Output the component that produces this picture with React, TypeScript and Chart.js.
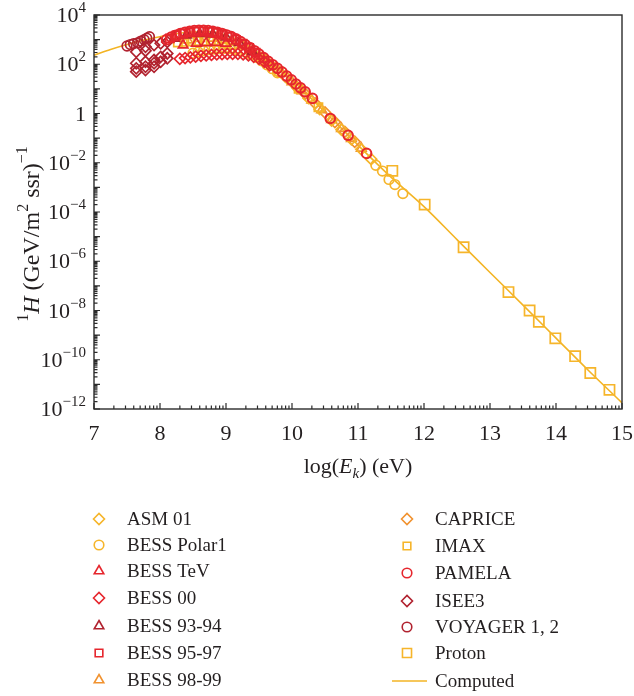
import React, { useEffect, useRef } from 'react';
import { Chart, registerables } from 'chart.js';
import { drawPoint } from 'chart.js/helpers';

Chart.register(...registerables);

// ---------------- data (x = log10(Ek / eV), y = flux in (GeV m^2 s sr)^-1) ----------------
const asm01X = [9.92, 10.08, 10.25, 10.42, 10.6, 10.75, 10.9, 11.05, 11.2];
const asm01Y = [28, 11, 4.2, 1.5, 0.52, 0.22, 0.089, 0.035, 0.014];

const bessPolarX = [8.5, 8.58, 8.66, 8.74, 8.82, 8.9, 8.98, 9.06, 9.14, 9.22, 9.3, 9.38, 9.46, 9.54, 9.62, 9.7, 9.78, 11.27, 11.37, 11.47, 11.56, 11.68];
const bessPolarY = [280, 316, 355, 390, 417, 437, 447, 437, 407, 363, 309, 251, 191, 138, 95, 66, 45, 7.9e-3, 4.6e-3, 2.1e-3, 1.3e-3, 5.6e-4];

const bessTevX = [8.35, 8.55, 8.7, 8.85, 9.0];
const bessTevY = [600, 710, 740, 760, 710];

const bess00X = [8.3, 8.38, 8.46, 8.54, 8.62, 8.7, 8.78, 8.86, 8.94, 9.02, 9.1, 9.18, 9.26, 9.34, 9.42, 9.5, 9.58, 9.66];
const bess00Y = [166, 178, 191, 204, 219, 229, 240, 251, 257, 263, 263, 263, 251, 229, 200, 166, 126, 91];

const bess9394X = [8.22, 8.4, 8.6, 8.8, 9.0, 9.2, 9.4];
const bess9394Y = [1120, 1510, 1740, 1660, 1260, 760, 330];

const bess9597X = [8.15, 8.25, 8.35, 8.45, 8.55, 8.65, 8.75, 8.85, 8.95, 9.05, 9.15, 9.25, 9.35, 9.45];
const bess9597Y = [1120, 1480, 1780, 2000, 2090, 2140, 2040, 1860, 1580, 1290, 980, 690, 457, 295];

const bess9899X = [8.42, 8.6, 8.8, 8.95, 9.1, 9.25, 9.4, 9.55, 9.7, 9.85, 10.0, 10.15, 10.3, 10.45, 10.6, 10.75, 10.9, 11.05];
const bess9899Y = [955, 1100, 1120, 1000, 830, 600, 355, 190, 89, 42, 19, 8.3, 3.5, 1.4, 0.56, 0.24, 0.095, 0.038];

const capriceX = [9.6, 9.75, 9.9, 10.05, 10.2, 10.35, 10.5, 10.65, 10.8, 10.95];
const capriceY = [145, 71, 32, 14, 6.3, 2.6, 1.1, 0.45, 0.18, 0.071];

const imaxX = [8.27, 8.37, 8.47, 8.57, 8.67, 8.77, 8.87, 8.97, 9.07, 9.5, 9.8, 10.1, 10.4];
const imaxY = [760, 810, 850, 870, 870, 850, 810, 740, 630, 200, 52, 10, 1.8];

const pamelaX = [8.1, 8.17, 8.24, 8.31, 8.38, 8.45, 8.52, 8.59, 8.66, 8.73, 8.8, 8.87, 8.94, 9.01, 9.08, 9.15, 9.22, 9.29, 9.36, 9.43, 9.5, 9.57, 9.64, 9.71, 9.78, 9.85, 9.92, 9.99, 10.06, 10.13, 10.2, 10.31, 10.58, 10.85, 11.13];
const pamelaY = [1000, 1260, 1510, 1780, 2000, 2190, 2340, 2400, 2400, 2340, 2190, 2000, 1780, 1550, 1320, 1070, 830, 630, 480, 355, 257, 186, 132, 95, 68, 48, 33, 23.4, 15.8, 11, 7.6, 4.1, 0.63, 0.13, 0.024];

const isee3X = [7.64, 7.64, 7.64, 7.64, 7.78, 7.78, 7.78, 7.78, 7.78, 7.91, 7.91, 7.91, 7.91, 8.01, 8.01, 8.01, 8.11, 8.11, 8.11];
const isee3Y = [320, 110, 68, 50, 510, 355, 126, 79, 58, 600, 148, 110, 79, 710, 200, 126, 810, 275, 174];

const voyagerX = [7.5, 7.55, 7.6, 7.66, 7.71, 7.76, 7.8, 7.84];
const voyagerY = [550, 630, 690, 740, 870, 1000, 1150, 1320];

const protonX = [11.52, 12.01, 12.6, 13.28, 13.6, 13.74, 13.99, 14.29, 14.52, 14.81];
const protonY = [4.7e-3, 2.0e-4, 3.7e-6, 5.6e-8, 1.0e-8, 3.5e-9, 7.4e-10, 1.4e-10, 2.9e-11, 6.0e-12];

const computedX = [7.0, 7.25, 7.5, 7.75, 8.0, 8.25, 8.5, 8.75, 9.0, 9.25, 9.5, 9.75, 10.0, 10.25, 10.5, 10.75, 11.0, 11.5, 12.0, 12.5, 13.0, 13.5, 14.0, 14.5, 15.0];
const computedY = [234, 398, 631, 955, 1318, 1738, 2042, 2089, 1514, 759, 282, 85, 22.4, 5.2, 1.15, 0.25, 0.052, 2.6e-3, 1.66e-4, 7.6e-6, 3.5e-7, 1.66e-8, 7.6e-10, 3.5e-11, 1.78e-12];

const xTickValues = [7, 8, 9, 10, 11, 12, 13, 14, 15];
const yTickExponents = [4, 2, 0, -2, -4, -6, -8, -10, -12];

// ---------------- styles ----------------
const SERIF = '"Liberation Serif", "Times New Roman", serif';
const C_YELLOW = '#F6B52A';
const C_ORANGE = '#F1922F';
const C_RED = '#E6262D';
const C_DARK = '#B1222F';
const C_LINE = '#F3B424';
const C_AXIS = '#2b2b2b';
const C_TEXT = '#231f20';

type Series = {
  label: string; xs: number[]; ys: number[]; style: string; color: string;
  radius: number; order: number; line?: boolean; bw?: number;
};

const SERIES: Series[] = [
  { label: 'ASM 01', xs: asm01X, ys: asm01Y, style: 'rectRot', color: C_YELLOW, radius: 5.5, order: 6 },
  { label: 'BESS Polar1', xs: bessPolarX, ys: bessPolarY, style: 'circle', color: C_YELLOW, radius: 4.8, order: 5 },
  { label: 'BESS TeV', xs: bessTevX, ys: bessTevY, style: 'triangle', color: C_RED, radius: 5.5, order: 4 },
  { label: 'BESS 00', xs: bess00X, ys: bess00Y, style: 'rectRot', color: C_RED, radius: 5.5, order: 4 },
  { label: 'BESS 93-94', xs: bess9394X, ys: bess9394Y, style: 'triangle', color: C_DARK, radius: 5.5, order: 3 },
  { label: 'BESS 95-97', xs: bess9597X, ys: bess9597Y, style: 'rect', color: C_RED, radius: 5.8, order: 2 },
  { label: 'BESS 98-99', xs: bess9899X, ys: bess9899Y, style: 'triangle', color: C_ORANGE, radius: 5.5, order: 7 },
  { label: 'CAPRICE', xs: capriceX, ys: capriceY, style: 'rectRot', color: C_ORANGE, radius: 5.5, order: 7 },
  { label: 'IMAX', xs: imaxX, ys: imaxY, style: 'rect', color: C_YELLOW, radius: 5.8, order: 6 },
  { label: 'PAMELA', xs: pamelaX, ys: pamelaY, style: 'circle', color: C_RED, radius: 4.8, order: 0, bw: 2 },
  { label: 'ISEE3', xs: isee3X, ys: isee3Y, style: 'rectRot', color: C_DARK, radius: 5.5, order: 2 },
  { label: 'VOYAGER 1, 2', xs: voyagerX, ys: voyagerY, style: 'circle', color: C_DARK, radius: 4.8, order: 1 },
  { label: 'Proton', xs: protonX, ys: protonY, style: 'rect', color: C_YELLOW, radius: 7.2, order: 5 },
  { label: 'Computed', xs: computedX, ys: computedY, style: 'line', color: C_LINE, radius: 0, order: 20, line: true },
];

type Seg = { t: string; size: number; italic?: boolean; dy?: number };

function segFont(s: Seg) {
  return `${s.italic ? 'italic ' : ''}${s.size}px ${SERIF}`;
}
function segsWidth(ctx: CanvasRenderingContext2D, segs: Seg[]) {
  let w = 0;
  for (const s of segs) { ctx.font = segFont(s); w += ctx.measureText(s.t).width; }
  return w;
}
function drawSegs(ctx: CanvasRenderingContext2D, segs: Seg[], x: number, y: number) {
  let cx = x;
  for (const s of segs) {
    ctx.font = segFont(s);
    ctx.fillText(s.t, cx, y + (s.dy || 0));
    cx += ctx.measureText(s.t).width;
  }
}

const decorPlugin = {
  id: 'decor',
  afterDraw(chart: any) {
    const ctx: CanvasRenderingContext2D = chart.ctx;
    const { left, right, top, bottom } = chart.chartArea;
    const xs = chart.scales.x;
    const ys = chart.scales.y;
    ctx.save();

    // frame
    ctx.strokeStyle = C_AXIS;
    ctx.lineWidth = 1.4;
    ctx.strokeRect(left, top, right - left, bottom - top);

    // y ticks (inward, left axis)
    ctx.lineWidth = 1.2;
    ctx.beginPath();
    for (let e = -12; e <= 4; e++) {
      const py = ys.getPixelForValue(Math.pow(10, e));
      ctx.moveTo(left, py); ctx.lineTo(left + 6, py);
      if (e < 4) {
        for (let k = 2; k <= 9; k++) {
          const pm = ys.getPixelForValue(k * Math.pow(10, e));
          ctx.moveTo(left, pm); ctx.lineTo(left + 3.5, pm);
        }
      }
    }
    // x ticks (inward, bottom axis)
    for (let i = 7; i <= 15; i++) {
      const px = xs.getPixelForValue(i);
      ctx.moveTo(px, bottom); ctx.lineTo(px, bottom - 6);
      if (i < 15) {
        for (let k = 2; k <= 9; k++) {
          const pm = xs.getPixelForValue(i + Math.log10(k));
          ctx.moveTo(pm, bottom); ctx.lineTo(pm, bottom - 3.5);
        }
      }
    }
    ctx.stroke();

    ctx.fillStyle = C_TEXT;
    ctx.textBaseline = 'alphabetic';
    ctx.textAlign = 'left';

    // y tick labels
    for (const e of yTickExponents) {
      const py = ys.getPixelForValue(Math.pow(10, e));
      const segs: Seg[] = e === 0
        ? [{ t: '1', size: 22 }]
        : [{ t: '10', size: 22 }, { t: (e < 0 ? '\u2212' : '') + Math.abs(e), size: 15, dy: -10 }];
      const w = segsWidth(ctx, segs);
      drawSegs(ctx, segs, left - 8 - w, py + 7);
    }

    // x tick labels
    for (const v of xTickValues) {
      const px = xs.getPixelForValue(v);
      const segs: Seg[] = [{ t: String(v), size: 22 }];
      const w = segsWidth(ctx, segs);
      drawSegs(ctx, segs, px - w / 2, 440);
    }

    // x title
    {
      const segs: Seg[] = [
        { t: 'log(', size: 22 },
        { t: 'E', size: 22, italic: true },
        { t: 'k', size: 15, italic: true, dy: 5 },
        { t: ') (eV)', size: 22 },
      ];
      const w = segsWidth(ctx, segs);
      drawSegs(ctx, segs, (left + right) / 2 - w / 2, 473);
    }

    // y title
    {
      const segs: Seg[] = [
        { t: '1', size: 16, dy: -11 },
        { t: 'H', size: 24, italic: true },
        { t: ' (GeV/m', size: 24 },
        { t: '2', size: 16, dy: -11 },
        { t: ' ssr)', size: 24 },
        { t: '\u22121', size: 16, dy: -12 },
      ];
      const w = segsWidth(ctx, segs);
      ctx.save();
      ctx.translate(39, 234);
      ctx.rotate(-Math.PI / 2);
      drawSegs(ctx, segs, -w / 2, 0);
      ctx.restore();
    }

    // legend (two columns)
    const leftRows = [519, 545, 571, 598, 626, 653, 680];
    const rightRows = [519, 546, 573, 601, 627, 653, 681];
    SERIES.forEach((s, i) => {
      const col = i < 7 ? 0 : 1;
      const row = col === 0 ? leftRows[i] : rightRows[i - 7];
      const mx = col === 0 ? 99 : 407;
      const tx = col === 0 ? 127 : 435;
      ctx.strokeStyle = s.color;
      ctx.fillStyle = 'rgba(0,0,0,0)';
      if (s.line) {
        ctx.lineWidth = 1.6;
        ctx.beginPath();
        ctx.moveTo(392, row); ctx.lineTo(427, row);
        ctx.stroke();
      } else {
        const r = s.label === 'Proton' ? 6.4 : s.style === 'rect' ? 5.4 : s.radius;
        ctx.lineWidth = 1.6;
        drawPoint(ctx, { pointStyle: s.style as any, rotation: 0, radius: r, borderWidth: 1.6 }, mx, row);
      }
      ctx.fillStyle = C_TEXT;
      ctx.font = `19px ${SERIF}`;
      ctx.fillText(s.label, tx, row + 6);
    });

    ctx.restore();
  },
};

export default function App() {
  const ref = useRef<HTMLCanvasElement | null>(null);

  useEffect(() => {
    if (!ref.current) return;
    const datasets = SERIES.map((s) => ({
      label: s.label,
      data: s.xs.map((x, i) => ({ x, y: s.ys[i] })),
      order: s.order,
      showLine: !!s.line,
      borderColor: s.color,
      backgroundColor: 'rgba(0,0,0,0)',
      borderWidth: s.line ? 1.6 : (s.bw || 1.7),
      pointStyle: s.line ? false : (s.style as any),
      pointRadius: s.line ? 0 : s.radius,
      pointBorderWidth: s.bw || 1.7,
      pointBorderColor: s.color,
      pointBackgroundColor: 'rgba(0,0,0,0)',
      cubicInterpolationMode: 'monotone' as const,
      tension: 0.4,
    }));

    const chart = new Chart(ref.current, {
      type: 'scatter',
      data: { datasets },
      options: {
        animation: false,
        responsive: false,
        devicePixelRatio: 1,
        layout: { padding: { left: 0, top: 15, right: 12, bottom: 247 } },
        plugins: { legend: { display: false }, tooltip: { enabled: false } },
        scales: {
          x: {
            type: 'linear',
            min: 7,
            max: 15,
            grid: { display: false },
            border: { display: false },
            ticks: { display: false, stepSize: 1 },
            afterFit: (scale: any) => { scale.height = 40; },
          },
          y: {
            type: 'logarithmic',
            min: 1e-12,
            max: 1e4,
            grid: { display: false },
            border: { display: false },
            ticks: { display: false },
            afterFit: (scale: any) => { scale.width = 94; },
          },
        },
      },
      plugins: [decorPlugin],
    });
    return () => chart.destroy();
  }, []);

  return (
    <div style={{ position: 'fixed', left: 0, top: 0, width: 634, height: 696, background: '#fff' }}>
      <canvas ref={ref} width={634} height={696} style={{ width: 634, height: 696, display: 'block' }} />
    </div>
  );
}
